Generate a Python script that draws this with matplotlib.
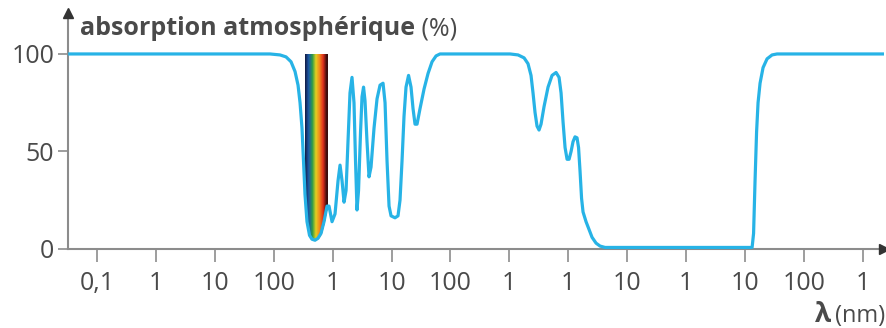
import numpy as np
import matplotlib
matplotlib.use("Agg")
import matplotlib.pyplot as plt
from matplotlib.colors import LinearSegmentedColormap
from matplotlib.ticker import NullLocator

# ---- data (log10 of wavelength in nm, absorption %) ----
log_lambda_nm = [-1.49, 1.937, 2.107, 2.209, 2.294, 2.362, 2.413, 2.447, 2.480, 2.506, 2.531,
                 2.565, 2.608, 2.650, 2.701, 2.752, 2.803, 2.854, 2.905, 2.939, 2.990, 3.041,
                 3.092, 3.126, 3.160, 3.194, 3.228, 3.261, 3.295, 3.329, 3.363, 3.389, 3.414,
                 3.440, 3.474, 3.499, 3.525, 3.550, 3.584, 3.618, 3.652, 3.703, 3.754, 3.805,
                 3.856, 3.890, 3.924, 3.958, 3.992, 4.059, 4.110, 4.144, 4.178, 4.212, 4.246,
                 4.289, 4.331, 4.365, 4.399, 4.433, 4.484, 4.552, 4.620, 4.688, 4.756, 4.823,
                 6.012, 6.148, 6.250, 6.317, 6.368, 6.402, 6.436, 6.470, 6.504, 6.538, 6.589,
                 6.657, 6.725, 6.793, 6.844, 6.878, 6.912, 6.946, 6.980, 7.014, 7.048, 7.081,
                 7.115, 7.149, 7.175, 7.200, 7.226, 7.251, 7.302, 7.353, 7.404, 7.472, 7.540,
                 7.625, 10.121, 10.146, 10.171, 10.197, 10.222, 10.256, 10.307, 10.375, 10.460,
                 10.545, 12.36]
absorption_pct = [100, 100, 99.5, 98.5, 96, 91, 84, 75, 62, 45, 28,
                  14, 7, 5, 4.5, 5.5, 8, 14, 22, 22, 14, 18,
                  35, 43, 35, 24, 30, 55, 80, 88, 75, 45, 20,
                  30, 60, 78, 83, 76, 55, 37, 42, 62, 77, 84,
                  85, 75, 45, 22, 17, 16, 17, 25, 45, 68, 83,
                  89, 83, 72, 64, 64, 72, 82, 90, 96, 99, 100,
                  100, 99.5, 98, 95, 89, 80, 70, 63, 61, 64, 73,
                  83, 89, 90.5, 88, 80, 65, 52, 46, 46, 50, 55,
                  57.5, 57, 52, 40, 26, 19, 14, 10, 6, 3, 1.5,
                  0.8, 0.8, 8, 35, 60, 75, 85, 93, 97.5, 99.5,
                  100, 100]

tick_exponents = list(range(-1, 13))
tick_labels = ["0,1", "1", "10", "100", "1", "10", "100", "1", "1", "10", "1", "10", "100", "1"]
y_ticks = [0, 50, 100]
visible_band_nm = [340, 800]
rainbow_colors = ["#121c45", "#1d5aa8", "#2e9c4a", "#e4d020", "#f28a1c", "#e0301c", "#3a0d0d"]

line_color = "#27b3e6"
axis_color = "#8c8c8c"
text_color = "#4a4a4a"

plt.rcParams["font.family"] = ["Open Sans", "DejaVu Sans"]

W, H = 886, 328
fig = plt.figure(figsize=(W / 100, H / 100), dpi=100)
ax = fig.add_axes([68 / W, (H - 249) / H, (884 - 68) / W, (249 - 13) / H])
ax.set_xscale("log")

lam = 10.0 ** np.array(log_lambda_nm)

# rainbow band (visible light)
cmap = LinearSegmentedColormap.from_list("vis", rainbow_colors)
edges = np.logspace(np.log10(visible_band_nm[0]), np.log10(visible_band_nm[1]), 61)
for i in range(len(edges) - 1):
    xs = edges[i:i + 2]
    ys = np.interp(np.log10(xs), log_lambda_nm, absorption_pct)
    c = cmap(i / (len(edges) - 2))
    ax.fill_between(xs, ys, 100, color=c, lw=0.6, edgecolor=c, zorder=3)

ax.plot(lam, absorption_pct, color=line_color, lw=2.3, clip_on=False, zorder=5,
        solid_joinstyle="round", solid_capstyle="butt")

ax.set_xlim(10 ** -1.492, 10 ** 12.36)
ax.set_ylim(0, 121)

for s in ["top", "right"]:
    ax.spines[s].set_visible(False)
for s in ["left", "bottom"]:
    ax.spines[s].set_color(axis_color)
    ax.spines[s].set_linewidth(1.5)
ax.plot([1], [0], marker=">", ms=7, color="#333333", transform=ax.transAxes, clip_on=False, zorder=6)
ax.plot([0], [1], marker="^", ms=7, color="#333333", transform=ax.transAxes, clip_on=False, zorder=6)

ax.set_xticks(10.0 ** np.array(tick_exponents))
ax.set_xticklabels(tick_labels)
ax.xaxis.set_minor_locator(NullLocator())
ax.set_yticks(y_ticks)
ax.set_yticklabels([str(v) for v in y_ticks])
ax.tick_params(axis="x", length=9, width=1.2, color=axis_color, labelsize=18,
               labelcolor=text_color, pad=7)
ax.tick_params(axis="y", length=7, width=1.2, color=axis_color, labelsize=18,
               labelcolor=text_color, pad=3)

# title
t1 = fig.text(80 / W, 1 - 35 / H, "absorption atmosphérique", fontsize=18, fontweight="bold",
              color=text_color, va="baseline", ha="left")
fig.canvas.draw()
bb = t1.get_window_extent()
fig.text(bb.x1 / W, 1 - 35 / H, " (%)", fontsize=18, color=text_color, va="baseline", ha="left")

t3 = fig.text(815 / W, 1 - 322 / H, "λ", fontsize=19, fontweight="bold",
              color=text_color, va="baseline", ha="left")
fig.canvas.draw()
bb3 = t3.get_window_extent()
fig.text(bb3.x1 / W + 4 / W, 1 - 322 / H, "(nm)", fontsize=17, color=text_color,
         va="baseline", ha="left")

fig.savefig("out.png", dpi=100)
